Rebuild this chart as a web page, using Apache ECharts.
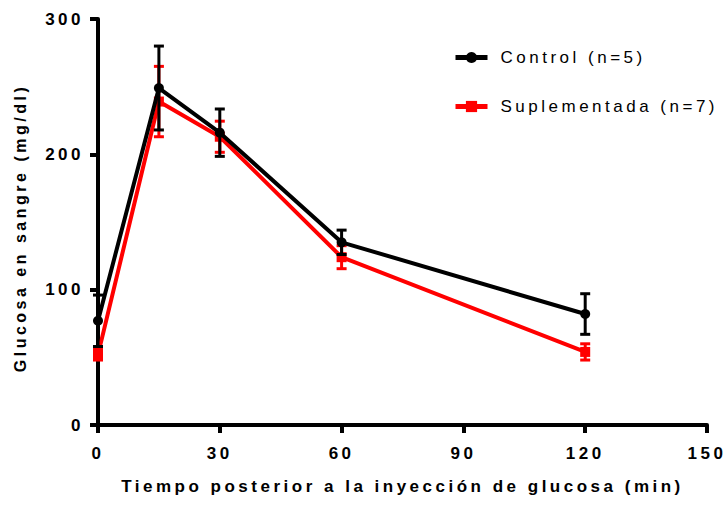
<!DOCTYPE html>
<html>
<head>
<meta charset="utf-8">
<script src="https://cdn.jsdelivr.net/npm/echarts@6/dist/echarts.min.js"></script>
<style>
  html, body { margin: 0; padding: 0; background: #fff; }
  #main { width: 727px; height: 505px; }
  /* Spaced-out lettering on every label */
  #main text { letter-spacing: 3.5px; }
</style>
</head>
<body>
<div id="main"></div>
<script>
// Sampling times after the glucose injection (min)
const times = [0, 15, 30, 60, 120];

// Blood glucose, mean and SEM (mg/dl)
const controlMean = [77, 249, 216, 135, 82];
const controlSem = [19, 31, 17.5, 9, 15];
const suplMean = [52, 239, 213, 124, 54];
const suplSem = [4, 26, 11.5, 8.5, 6];

const xTicks = [0, 30, 60, 90, 120, 150];
const yTicks = [0, 100, 200, 300];

const controlName = 'Control (n=5)';
const suplName = 'Suplementada (n=7)';

const FONT = '"Liberation Sans", Arial, sans-serif';

function lineData(mean) {
  return times.map((t, i) => [t, mean[i]]);
}
function errData(mean, sem) {
  return times.map((t, i) => [t, mean[i] - sem[i], mean[i] + sem[i]]);
}

function errorBars(color) {
  return function (params, api) {
    const x = api.value(0);
    const lo = api.coord([x, api.value(1)]);
    const hi = api.coord([x, api.value(2)]);
    const hw = 5;
    const style = { stroke: color, lineWidth: 3 };
    return {
      type: 'group',
      children: [
        { type: 'line', shape: { x1: hi[0], y1: hi[1], x2: lo[0], y2: lo[1] }, style },
        { type: 'line', shape: { x1: hi[0] - hw, y1: hi[1], x2: hi[0] + hw, y2: hi[1] }, style },
        { type: 'line', shape: { x1: lo[0] - hw, y1: lo[1], x2: lo[0] + hw, y2: lo[1] }, style }
      ]
    };
  };
}

const chart = echarts.init(document.getElementById('main'), null, { renderer: 'svg' });

const axisCommon = {
  type: 'value',
  splitLine: { show: false },
  axisLine: { show: true, lineStyle: { color: '#000', width: 4 } },
  axisTick: { show: true, length: 8, lineStyle: { color: '#000', width: 4 } },
  axisLabel: { color: '#000', fontWeight: 'bold', fontSize: 17, fontFamily: FONT },
  nameLocation: 'middle',
  nameTextStyle: { color: '#000', fontWeight: 'bold', fontFamily: FONT }
};

chart.setOption({
  animation: false,
  backgroundColor: '#fff',
  grid: { left: 98, right: 20, top: 19, bottom: 80 },
  xAxis: Object.assign({}, axisCommon, {
    min: xTicks[0],
    max: xTicks[xTicks.length - 1],
    interval: xTicks[1] - xTicks[0],
    name: 'Tiempo posterior a la inyección de glucosa (min)',
    nameGap: 53,
    nameTextStyle: Object.assign({}, axisCommon.nameTextStyle, { fontSize: 17 }),
    axisLabel: Object.assign({}, axisCommon.axisLabel, { margin: 20 })
  }),
  yAxis: Object.assign({}, axisCommon, {
    min: yTicks[0],
    max: yTicks[yTicks.length - 1],
    interval: yTicks[1] - yTicks[0],
    name: 'Glucosa en sangre (mg/dl)',
    nameGap: 70,
    nameTextStyle: Object.assign({}, axisCommon.nameTextStyle, {
      fontSize: 16,
      padding: [0, 12, 0, 0]
    }),
    axisLabel: Object.assign({}, axisCommon.axisLabel, { margin: 14 })
  }),
  legend: {
    orient: 'vertical',
    left: 448,
    top: 44,
    itemWidth: 32,
    itemHeight: 14,
    itemGap: 32,
    data: [controlName, suplName],
    lineStyle: { width: 5 },
    textStyle: { color: '#000', fontSize: 17, fontFamily: FONT, padding: [0, 0, 0, 8] }
  },
  series: [
    {
      name: suplName,
      type: 'line',
      data: lineData(suplMean),
      symbol: 'rect',
      symbolSize: 10,
      color: '#ff0000',
      lineStyle: { width: 4, color: '#ff0000' },
      itemStyle: { color: '#ff0000' },
      z: 2
    },
    {
      type: 'custom',
      data: errData(suplMean, suplSem),
      encode: { x: 0, y: [1, 2] },
      renderItem: errorBars('#ff0000'),
      z: 3
    },
    {
      name: controlName,
      type: 'line',
      data: lineData(controlMean),
      symbol: 'circle',
      symbolSize: 10,
      color: '#000',
      lineStyle: { width: 4, color: '#000' },
      itemStyle: { color: '#000' },
      z: 4
    },
    {
      type: 'custom',
      data: errData(controlMean, controlSem),
      encode: { x: 0, y: [1, 2] },
      renderItem: errorBars('#000'),
      z: 5
    }
  ]
});
</script>
</body>
</html>
